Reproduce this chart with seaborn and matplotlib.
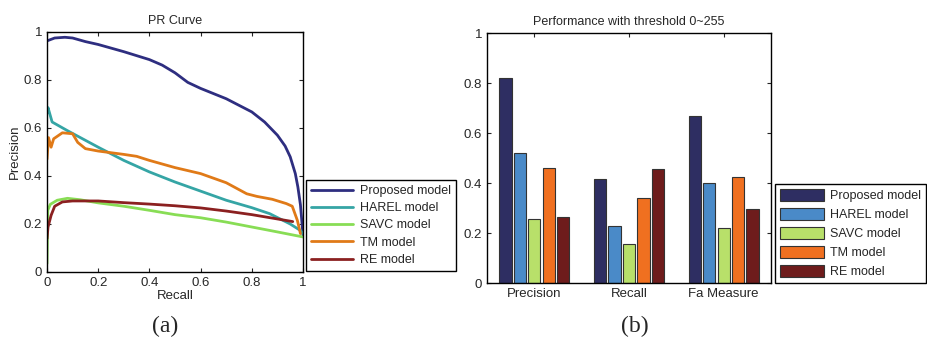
# =========================================
# IMPORT LIBRARIES
# =========================================

import pandas as pd
import numpy as np
import matplotlib
matplotlib.use("Agg")
import matplotlib.pyplot as plt
import seaborn as sns

# =========================================
# DATA
# =========================================

models = ["Proposed model", "HAREL model", "SAVC model", "TM model", "RE model"]

line_colors = ["#2e2e80", "#35a5a5", "#88dd55", "#e07a18", "#8b2020"]
bar_colors = ["#2e2e62", "#4a8ac8", "#b8e06a", "#f07020", "#6e1c1c"]

# PR curves (recall, precision)
proposed_recall = [0.0, 0.03, 0.07, 0.1, 0.15, 0.2, 0.3, 0.4, 0.45, 0.5, 0.55,
                   0.6, 0.7, 0.8, 0.85, 0.9, 0.93, 0.95, 0.97, 0.98, 0.99, 1.0]
proposed_precision = [0.963, 0.975, 0.978, 0.975, 0.96, 0.948, 0.918, 0.885,
                      0.862, 0.83, 0.79, 0.765, 0.722, 0.667, 0.625, 0.57,
                      0.525, 0.48, 0.41, 0.354, 0.28, 0.155]

harel_recall = [0.0, 0.004, 0.02, 0.078, 0.2, 0.3, 0.4, 0.5, 0.6, 0.7, 0.8,
                0.87, 0.95, 0.99, 1.0]
harel_precision = [0.66, 0.685, 0.625, 0.59, 0.52, 0.465, 0.417, 0.375, 0.337,
                   0.299, 0.268, 0.243, 0.2, 0.173, 0.16]

savc_recall = [0.0, 0.003, 0.013, 0.04, 0.08, 0.13, 0.2, 0.3, 0.4, 0.5, 0.6,
               0.7, 0.8, 0.9, 1.0]
savc_precision = [0.035, 0.257, 0.282, 0.299, 0.307, 0.301, 0.288, 0.274,
                  0.257, 0.239, 0.226, 0.208, 0.1875, 0.167, 0.146]

tm_recall = [0.0, 0.006, 0.016, 0.026, 0.06, 0.1, 0.12, 0.15, 0.2, 0.3, 0.35,
             0.4, 0.5, 0.6, 0.7, 0.78, 0.82, 0.88, 0.935, 0.958, 0.978, 0.99]
tm_precision = [0.47, 0.56, 0.52, 0.555, 0.58, 0.576, 0.54, 0.514, 0.504,
                0.49, 0.482, 0.465, 0.435, 0.41, 0.372, 0.326, 0.315, 0.303,
                0.285, 0.274, 0.215, 0.16]

re_recall = [0.0, 0.004, 0.016, 0.03, 0.06, 0.1, 0.2, 0.3, 0.4, 0.5, 0.6,
             0.7, 0.8, 0.9, 0.96]
re_precision = [0.139, 0.1875, 0.236, 0.274, 0.292, 0.296, 0.296, 0.289,
                0.283, 0.276, 0.267, 0.254, 0.239, 0.221, 0.21]

# bar chart values
metrics = ["Precision", "Recall", "Fa Measure"]
proposed_bars = [0.82, 0.415, 0.67]
harel_bars = [0.52, 0.23, 0.40]
savc_bars = [0.255, 0.155, 0.22]
tm_bars = [0.46, 0.34, 0.425]
re_bars = [0.265, 0.455, 0.295]

tick_values = [0, 0.2, 0.4, 0.6, 0.8, 1]
tick_labels = ["0", "0.2", "0.4", "0.6", "0.8", "1"]

# =========================================
# BUILD TABLES
# =========================================

curves = [
    (proposed_recall, proposed_precision),
    (harel_recall, harel_precision),
    (savc_recall, savc_precision),
    (tm_recall, tm_precision),
    (re_recall, re_precision),
]

rows = []
for name, (rec, prec) in zip(models, curves):
    for i, (r, p) in enumerate(zip(rec, prec)):
        rows.append({"model": name, "order": i, "Recall": r, "Precision": p})
pr_df = pd.DataFrame(rows)

bar_values = [proposed_bars, harel_bars, savc_bars, tm_bars, re_bars]
bar_rows = []
for name, vals in zip(models, bar_values):
    for m, v in zip(metrics, vals):
        bar_rows.append({"metric": m, "model": name, "value": v})
bar_df = pd.DataFrame(bar_rows)

# =========================================
# STYLE
# =========================================

sns.set_style("ticks")
plt.rcParams["font.family"] = ["Liberation Sans", "DejaVu Sans"]
plt.rcParams["xtick.direction"] = "in"
plt.rcParams["ytick.direction"] = "in"

fig = plt.figure(figsize=(9.28, 3.44), dpi=100)

ax1 = fig.add_axes([47 / 928, 1 - 272 / 344, 256 / 928, 240 / 344])
ax2 = fig.add_axes([487 / 928, 1 - 283 / 344, 284 / 928, 250 / 344])

# =========================================
# PR CURVE
# =========================================

sns.lineplot(
    data=pr_df, x="Recall", y="Precision", hue="model",
    hue_order=models, palette=line_colors, sort=False,
    estimator=None, units="model", linewidth=2, ax=ax1, legend=False
)

ax1.set_xlim(0, 1)
ax1.set_ylim(0, 1)
ax1.set_xticks(tick_values)
ax1.set_xticklabels(tick_labels)
ax1.set_yticks(tick_values)
ax1.set_yticklabels(tick_labels)
ax1.tick_params(top=True, right=True, labelsize=9.5, length=3, width=0.8)
ax1.set_title("PR Curve", fontsize=9, pad=6)
ax1.set_xlabel("Recall", fontsize=9.5, labelpad=1)
ax1.set_ylabel("Precision", fontsize=9.5, labelpad=2)
for s in ax1.spines.values():
    s.set_linewidth(1.0)
    s.set_color("black")

handles1 = [plt.Line2D([0], [0], color=c, lw=2) for c in line_colors]
fig.legend(
    handles1, models, loc="lower left",
    bbox_to_anchor=(306 / 928, 1 - 271 / 344),
    bbox_transform=fig.transFigure, fontsize=9, frameon=True,
    fancybox=False, edgecolor="black", framealpha=1,
    handlelength=3.4, handletextpad=0.5, labelspacing=0.42,
    borderpad=0.4, borderaxespad=0
).get_frame().set_linewidth(1.0)

# =========================================
# BAR CHART
# =========================================

sns.barplot(
    data=bar_df, x="metric", y="value", hue="model",
    order=metrics, hue_order=models, palette=bar_colors, saturation=1,
    width=0.76, gap=0.15, edgecolor="#333333", linewidth=0.8,
    ax=ax2, legend=False
)

ax2.set_xlim(-0.5, 2.5)
ax2.set_ylim(0, 1)
ax2.set_yticks(tick_values)
ax2.set_yticklabels(tick_labels)
ax2.tick_params(top=True, right=True, labelsize=9.5, length=3, width=0.8)
ax2.set_xlabel("")
ax2.set_ylabel("")
ax2.set_title("Performance with threshold 0~255", fontsize=9, pad=6)
for s in ax2.spines.values():
    s.set_linewidth(1.0)
    s.set_color("black")

handles2 = [plt.Rectangle((0, 0), 1, 1, facecolor=c, edgecolor="#333333",
                          linewidth=0.8) for c in bar_colors]
fig.legend(
    handles2, models, loc="lower left",
    bbox_to_anchor=(775 / 928, 1 - 283 / 344),
    bbox_transform=fig.transFigure, fontsize=9, frameon=True,
    fancybox=False, edgecolor="black", framealpha=1,
    handlelength=3.5, handleheight=1.1, handletextpad=0.5,
    labelspacing=0.45, borderpad=0.4, borderaxespad=0
).get_frame().set_linewidth(1.0)

# =========================================
# CAPTIONS
# =========================================

fig.text(165 / 928, 1 - 326 / 344, "(a)", ha="center", va="center",
         fontsize=17, family="Liberation Serif")
fig.text(635 / 928, 1 - 326 / 344, "(b)", ha="center", va="center",
         fontsize=17, family="Liberation Serif")

fig.savefig("out.png", dpi=100)
